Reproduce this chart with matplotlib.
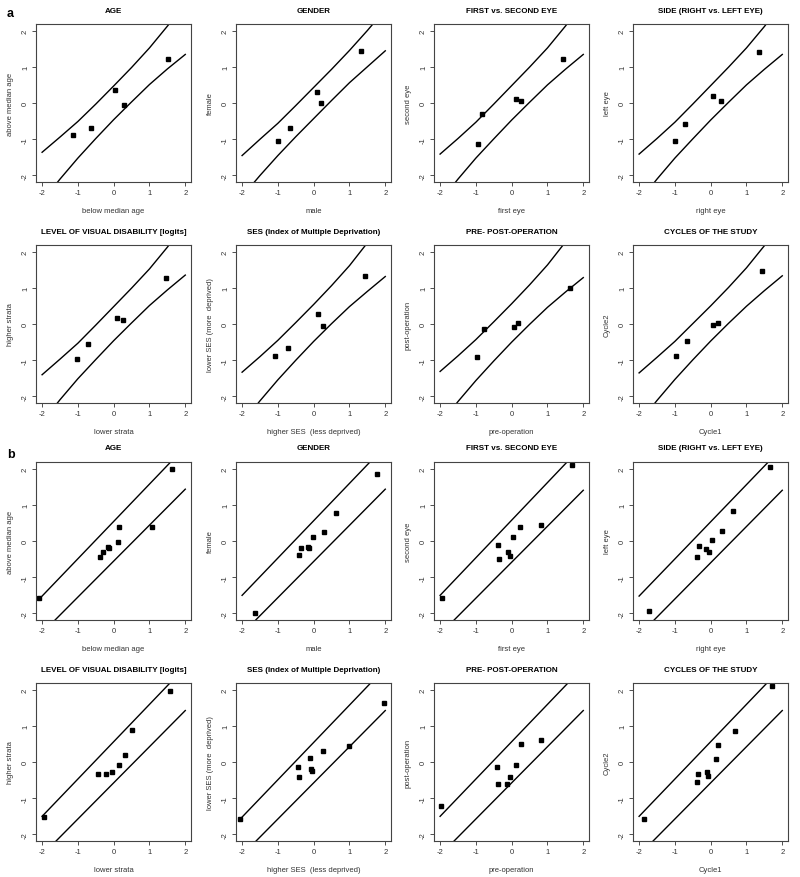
import numpy as np
from matplotlib import pyplot as plt

plt.rcParams['font.family'] = ['Liberation Sans', 'DejaVu Sans']
plt.rcParams['axes.unicode_minus'] = False

#   Titoli e etichette degli assi
titles = ['AGE', 'GENDER', 'FIRST vs. SECOND EYE', 'SIDE (RIGHT vs. LEFT EYE)',
          'LEVEL OF VISUAL DISABILITY [logits]', 'SES (Index of Multiple Deprivation)',
          'PRE- POST-OPERATION', 'CYCLES OF THE STUDY']
xlabels = ['below median age', 'male', 'first eye', 'right eye',
           'lower strata', 'higher SES  (less deprived)', 'pre-operation', 'Cycle1']
ylabels = ['above median age', 'female', 'second eye', 'left eye',
           'higher strata', 'lower SES (more  deprived)', 'post-operation', 'Cycle2']

band_x_a = [-2, -1.5, -1, -0.5, 0, 0.5, 1, 1.5, 2]
band_x_b = [-2, 2]

#   Pannello a: punti
a_x = [[-1.15, -0.63, 0.04, 0.29, 1.53],
       [-1.00, -0.66, 0.08, 0.20, 1.31],
       [-0.94, -0.84, 0.12, 0.25, 1.42],
       [-1.00, -0.72, 0.07, 0.30, 1.34],
       [-1.03, -0.73, 0.08, 0.25, 1.45],
       [-1.07, -0.73, 0.12, 0.27, 1.42],
       [-0.96, -0.78, 0.07, 0.18, 1.62],
       [-0.98, -0.65, 0.07, 0.20, 1.42]]
a_y = [[-0.87, -0.69, 0.36, -0.05, 1.22],
       [-1.04, -0.69, 0.30, 0.01, 1.44],
       [-1.14, -0.31, 0.10, 0.06, 1.22],
       [-1.05, -0.57, 0.19, 0.06, 1.42],
       [-0.96, -0.56, 0.16, 0.11, 1.28],
       [-0.88, -0.65, 0.28, -0.06, 1.32],
       [-0.91, -0.15, -0.09, 0.03, 0.98],
       [-0.89, -0.48, -0.04, 0.03, 1.46]]
#   Pannello a: bande (curve)
a_upper = [[-1.36, -0.94, -0.51, -0.03, 0.47, 0.98, 1.52, 2.12, 2.75],
           [-1.45, -1.00, -0.56, -0.07, 0.43, 0.93, 1.45, 2.00, 2.58],
           [-1.41, -0.98, -0.53, -0.03, 0.48, 0.99, 1.52, 2.12, 2.78],
           [-1.41, -0.98, -0.53, -0.03, 0.48, 0.99, 1.52, 2.11, 2.76],
           [-1.40, -0.97, -0.53, -0.03, 0.48, 0.99, 1.52, 2.12, 2.78],
           [-1.33, -0.90, -0.45, 0.04, 0.54, 1.06, 1.61, 2.24, 2.90],
           [-1.31, -0.88, -0.43, 0.06, 0.56, 1.08, 1.63, 2.26, 2.92],
           [-1.35, -0.92, -0.48, 0.01, 0.50, 1.01, 1.55, 2.16, 2.82]]
a_lower = [[-2.72, -2.10, -1.52, -0.98, -0.46, 0.03, 0.51, 0.94, 1.34],
           [-2.58, -2.00, -1.45, -0.93, -0.43, 0.07, 0.56, 1.00, 1.44],
           [-2.72, -2.10, -1.52, -0.99, -0.47, 0.02, 0.50, 0.93, 1.34],
           [-2.72, -2.10, -1.52, -0.99, -0.47, 0.02, 0.50, 0.93, 1.34],
           [-2.71, -2.09, -1.51, -0.98, -0.46, 0.03, 0.51, 0.94, 1.35],
           [-2.74, -2.12, -1.54, -1.00, -0.48, 0.01, 0.48, 0.90, 1.31],
           [-2.76, -2.14, -1.56, -1.02, -0.50, -0.01, 0.46, 0.88, 1.28],
           [-2.73, -2.11, -1.53, -0.99, -0.47, 0.02, 0.49, 0.92, 1.33]]

#   Pannello b: punti
b_x = [[-2.09, -0.37, -0.29, -0.17, -0.13, 0.11, 0.14, 1.07, 1.64],
       [-1.65, -0.40, -0.35, -0.17, -0.13, -0.03, 0.29, 0.63, 1.78],
       [-1.94, -0.37, -0.36, -0.10, -0.04, 0.04, 0.22, 0.83, 1.69],
       [-1.72, -0.39, -0.34, -0.12, -0.06, 0.04, 0.31, 0.62, 1.67],
       [-1.94, -0.44, -0.22, -0.06, 0.14, 0.33, 0.50, 1.58],
       [-2.05, -0.45, -0.42, -0.10, -0.08, -0.06, 0.25, 0.98, 1.97],
       [-1.97, -0.42, -0.38, -0.12, -0.05, 0.12, 0.27, 0.83],
       [-1.85, -0.38, -0.35, -0.10, -0.08, 0.15, 0.20, 0.68, 1.72]]
b_y = [[-1.57, -0.44, -0.29, -0.16, -0.19, -0.02, 0.38, 0.38, 1.98],
       [-1.99, -0.39, -0.20, -0.16, -0.19, 0.10, 0.24, 0.76, 1.84],
       [-1.56, -0.11, -0.51, -0.31, -0.41, 0.12, 0.40, 0.44, 2.09],
       [-1.94, -0.45, -0.15, -0.22, -0.31, 0.04, 0.27, 0.82, 2.04],
       [-1.53, -0.33, -0.33, -0.28, -0.08, 0.19, 0.89, 1.97],
       [-1.57, -0.13, -0.42, 0.12, -0.20, -0.24, 0.30, 0.45, 1.64],
       [-1.22, -0.13, -0.60, -0.60, -0.42, -0.07, 0.50, 0.60],
       [-1.57, -0.55, -0.33, -0.28, -0.40, 0.07, 0.48, 0.85, 2.10]]
#   Pannello b: bande (quasi rette)
b_upper = [[-1.52, 2.60], [-1.50, 2.62], [-1.50, 2.65], [-1.52, 2.58],
           [-1.50, 2.62], [-1.52, 2.60], [-1.50, 2.62], [-1.50, 2.62]]
b_lower = [[-2.54, 1.43], [-2.56, 1.43], [-2.57, 1.40], [-2.60, 1.40],
           [-2.57, 1.42], [-2.57, 1.42], [-2.57, 1.42], [-2.57, 1.42]]

W, H = 800, 878
fig = plt.figure(figsize=(W / 100, H / 100), dpi=100)

#   Posizioni (pixel) dei riquadri
col_left = [36, 236, 434, 633]
row_top = [25, 246, 463, 684]
box_w, box_h = 155, 158


def pannello(ax, bx, px, py, up, lo, title, xl, yl):
    ax.plot(bx, up, color='black', lw=1.0)
    ax.plot(bx, lo, color='black', lw=1.0)
    ax.plot(px, py, 's', color='black', ms=3.4)
    ax.set_xlim(-2.17, 2.16)
    ax.set_ylim(-2.18, 2.18)
    ax.set_xticks([-2, -1, 0, 1, 2])
    ax.set_yticks([-2, -1, 0, 1, 2])
    ax.tick_params(labelsize=5.5, length=3, width=0.6, colors='#333333', pad=2)
    for lab in ax.get_yticklabels():
        lab.set_rotation(90)
        lab.set_va('center')
    for s in ax.spines.values():
        s.set_linewidth(0.8)
        s.set_color('#444444')
    ax.set_title(title, fontsize=5.8, fontweight='bold', pad=9)
    ax.set_xlabel(xl, fontsize=5.5, labelpad=8, color='#333333')
    ax.set_ylabel(yl, fontsize=5.5, labelpad=6, color='#333333')


for i in range(8):
    r, c = divmod(i, 4)
    # pannello a
    ax = fig.add_axes([col_left[c] / W, 1 - (row_top[r] + box_h) / H, box_w / W, box_h / H])
    pannello(ax, band_x_a, a_x[i], a_y[i], a_upper[i], a_lower[i],
             titles[i], xlabels[i], ylabels[i])
    # pannello b
    ax = fig.add_axes([col_left[c] / W, 1 - (row_top[r + 2] + box_h) / H, box_w / W, box_h / H])
    pannello(ax, band_x_b, b_x[i], b_y[i], b_upper[i], b_lower[i],
             titles[i], xlabels[i], ylabels[i])

fig.text(7 / W, 1 - 14 / H, 'a', fontsize=9, fontweight='bold', va='center')
fig.text(7 / W, 1 - 455 / H, 'b', fontsize=9, fontweight='bold', va='center')

fig.savefig('out.png', dpi=100)
